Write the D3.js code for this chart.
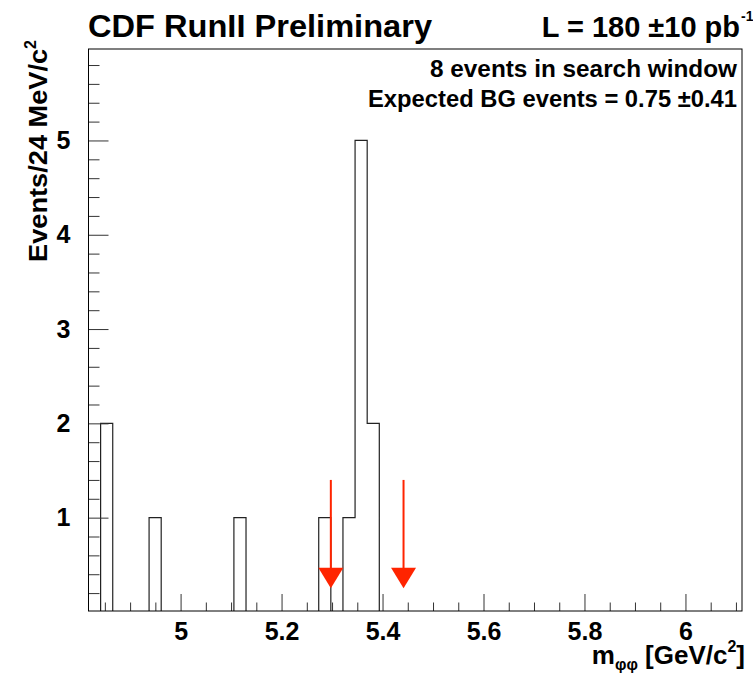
<!DOCTYPE html>
<html>
<head>
<meta charset="utf-8">
<script src="https://cdn.jsdelivr.net/npm/d3@7"></script>
<style>
  body { margin: 0; background: #fff; }
  text { font-family: "Liberation Sans", Arial, Helvetica, sans-serif; font-weight: bold; fill: #000; }
</style>
</head>
<body>
<div id="chart"></div>
<script>
// m(phi phi) histogram, 24 MeV bins starting at binStart
var binStart = 4.8176, binWidth = 0.024;
var counts = [0,2,0,0,0,1,0,0,0,0,
              0,0,1,0,0,0,0,0,0,1,
              0,1,5,2,0,0,0,0,0,0,
              0,0,0,0,0,0,0,0,0,0,
              0,0,0,0,0,0,0,0,0,0,
              0,0,0,0];

// search window (arrows)
var windowEdges = [5.2976, 5.4416];
var arrowTop = 1.4, arrowTip = 0.25;

// axis ticks
var xMajor = [5, 5.2, 5.4, 5.6, 5.8, 6];
var xMinor = [4.85, 4.9, 4.95, 5.05, 5.1, 5.15, 5.25, 5.3, 5.35, 5.45, 5.5, 5.55,
              5.65, 5.7, 5.75, 5.85, 5.9, 5.95, 6.05, 6.1];
var yMajor = [1, 2, 3, 4, 5];
var yMinor = [0.2, 0.4, 0.6, 0.8, 1.2, 1.4, 1.6, 1.8, 2.2, 2.4, 2.6, 2.8, 3.2, 3.4, 3.6, 3.8,
              4.2, 4.4, 4.6, 4.8, 5.2, 5.4, 5.6, 5.8];

var margin = {top: 49, right: 11, bottom: 63, left: 88.5},
    width = 753 - margin.left - margin.right,
    height = 674 - margin.top - margin.bottom;

var root = d3.select("#chart")
  .append("svg")
    .attr("width", 753)
    .attr("height", 674);

root.append("rect").attr("width", 753).attr("height", 674).attr("fill", "#fff");

var svg = root.append("g")
    .attr("transform", "translate(" + margin.left + "," + margin.top + ")");

var x = d3.scaleLinear().domain([4.8176, 6.112]).range([0, width]);
var y = d3.scaleLinear().domain([0.01, 5.97]).range([height, 0]);

svg.append("clipPath").attr("id", "frameclip")
  .append("rect").attr("width", width).attr("height", height);

// histogram outline
var pts = [[binStart, 0]];
counts.forEach(function(c, i) { pts.push([binStart + i * binWidth, c]); });
pts.push([binStart + counts.length * binWidth, 0]);

var line = d3.line()
    .x(function(d) { return x(d[0]); })
    .y(function(d) { return y(d[1]); })
    .curve(d3.curveStepAfter);

svg.append("path")
    .datum(pts)
    .attr("clip-path", "url(#frameclip)")
    .attr("fill", "none")
    .attr("stroke", "#222")
    .attr("stroke-width", 1.2)
    .attr("d", line);

// ticks
function styleTicks(g) {
  g.select(".domain").remove();
  g.selectAll(".tick line").attr("stroke", "#333").attr("stroke-width", 1);
  g.selectAll(".tick text").style("font-size", "25px").attr("fill", "#000");
}

svg.append("g")
    .attr("transform", "translate(0," + height + ")")
    .call(d3.axisBottom(x).tickValues(xMajor).tickSizeInner(-17).tickSizeOuter(0)
          .tickPadding(11).tickFormat(d3.format("")))
    .call(styleTicks);
svg.append("g")
    .attr("transform", "translate(0," + height + ")")
    .call(d3.axisBottom(x).tickValues(xMinor).tickSizeInner(-8.5).tickSizeOuter(0).tickFormat(""))
    .call(styleTicks);

svg.append("g")
    .call(d3.axisLeft(y).tickValues(yMajor).tickSizeInner(-20).tickSizeOuter(0)
          .tickPadding(18).tickFormat(d3.format("d")))
    .call(styleTicks);
svg.append("g")
    .call(d3.axisLeft(y).tickValues(yMinor).tickSizeInner(-11).tickSizeOuter(0).tickFormat(""))
    .call(styleTicks);

// frame
svg.append("rect")
    .attr("width", width).attr("height", height)
    .attr("fill", "none").attr("stroke", "#000").attr("stroke-width", 1);

// search window arrows
var red = "#ff2400";
var arrows = svg.selectAll(".arrow").data(windowEdges).enter().append("g").attr("class", "arrow");
arrows.append("line")
    .attr("x1", function(d) { return x(d); })
    .attr("x2", function(d) { return x(d); })
    .attr("y1", y(arrowTop))
    .attr("y2", y(arrowTip) - 18)
    .attr("stroke", red).attr("stroke-width", 2);
arrows.append("path")
    .attr("fill", red)
    .attr("d", function(d) {
      var cx = x(d), ty = y(arrowTip);
      return "M" + (cx - 12.5) + "," + (ty - 20.5) + "L" + (cx + 12.5) + "," + (ty - 20.5) +
             "L" + cx + "," + ty + "Z";
    });

// titles and labels
root.append("text").attr("x", 88).attr("y", 37)
    .style("font-size", "32px").attr("textLength", 344).attr("lengthAdjust", "spacingAndGlyphs")
    .text("CDF RunII Preliminary");

root.append("text").attr("x", 740).attr("y", 37).attr("text-anchor", "end")
    .style("font-size", "29px")
    .text("L = 180 \u00B110 pb");
root.append("text").attr("x", 741).attr("y", 21).style("font-size", "14px").text("-1");

root.append("text").attr("x", 737).attr("y", 77).attr("text-anchor", "end")
    .style("font-size", "23px").attr("textLength", 307).attr("lengthAdjust", "spacingAndGlyphs")
    .text("8 events in search window");
root.append("text").attr("x", 737).attr("y", 107).attr("text-anchor", "end")
    .style("font-size", "23px").attr("textLength", 369).attr("lengthAdjust", "spacingAndGlyphs")
    .text("Expected BG events = 0.75 \u00B10.41");

// y label
var ylab = root.append("text")
    .attr("transform", "translate(47,40) rotate(-90)")
    .attr("text-anchor", "end")
    .style("font-size", "25px");
ylab.append("tspan").attr("textLength", 213).attr("lengthAdjust", "spacingAndGlyphs")
    .text("Events/24 MeV/c");
ylab.append("tspan").attr("dy", -11).style("font-size", "16px").text("2");

// x label
var xlab = root.append("text").attr("x", 745).attr("y", 664).attr("text-anchor", "end")
    .style("font-size", "26px");
xlab.append("tspan").text("m");
xlab.append("tspan").attr("dy", 6).style("font-size", "16px").text("\u03C6\u03C6");
xlab.append("tspan").attr("dy", -6).text(" [GeV/c");
xlab.append("tspan").attr("dy", -12).style("font-size", "16px").text("2");
xlab.append("tspan").attr("dy", 12).text("]");
</script>
</body>
</html>
